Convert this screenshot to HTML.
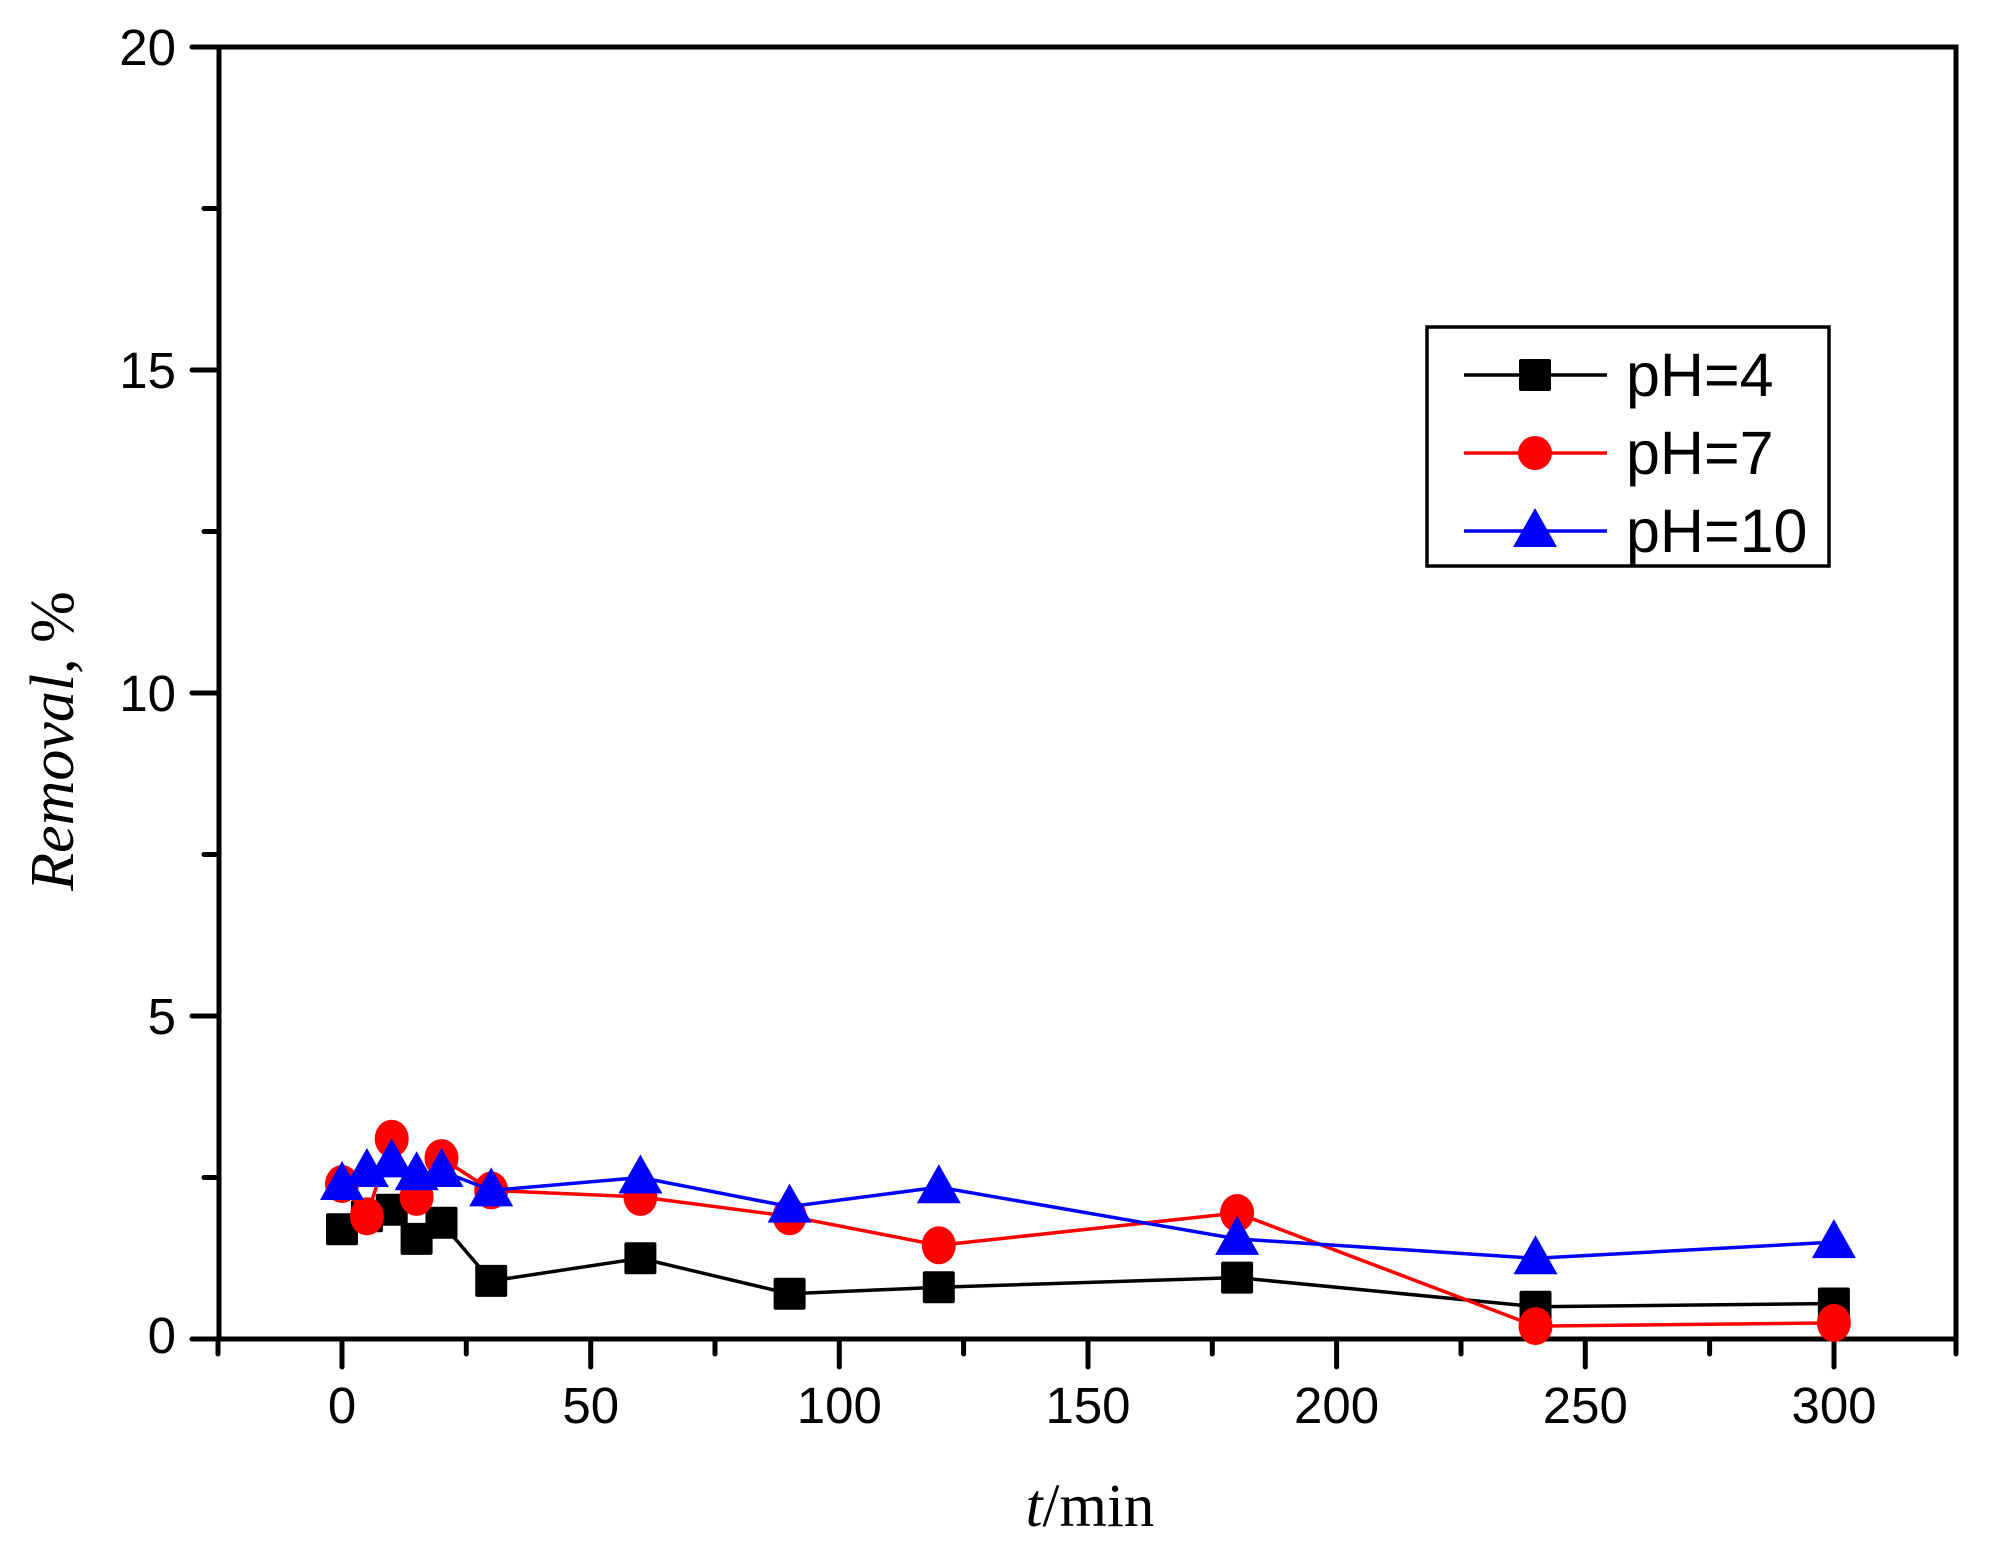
<!DOCTYPE html>
<html><head><meta charset="utf-8"><style>html,body{margin:0;padding:0;background:#fff}svg{display:block}</style></head>
<body>
<svg width="1994" height="1555" viewBox="0 0 1994 1555" xmlns="http://www.w3.org/2000/svg">
<defs>
<rect id="sq" x="-16" y="-16" width="32" height="32" rx="2" fill="#000"/>
<ellipse id="ci" cx="0" cy="0" rx="17" ry="19" fill="#f00"/>
<polygon id="tr" points="0,-23 22,16 -22,16" fill="#00f"/>
</defs>
<g stroke="#000" stroke-width="5" fill="none" stroke-linecap="round">
<rect x="219" y="47" width="1737" height="1292"/>
<path d="M219 1339h-27M219 1177.5h-15M219 1016h-27M219 854.5h-15M219 693h-27M219 531.5h-15M219 370h-27M219 208.5h-15M219 47h-27"/>
<path d="M218 1339v15M342 1339v28M466.3 1339v15M590.7 1339v28M715 1339v15M839.3 1339v28M963.6 1339v15M1088 1339v28M1212.3 1339v15M1336.6 1339v28M1461 1339v15M1585.3 1339v28M1709.6 1339v15M1834 1339v28M1956 1339v15"/>
</g>
<g font-family="Liberation Sans, sans-serif" font-size="51" fill="#000">
<g text-anchor="end">
<text x="176" y="1353">0</text>
<text x="176" y="1034">5</text>
<text x="176" y="711">10</text>
<text x="176" y="388">15</text>
<text x="176" y="65">20</text>
</g>
<g text-anchor="middle">
<text x="342" y="1423">0</text>
<text x="590.7" y="1423">50</text>
<text x="839.3" y="1423">100</text>
<text x="1088" y="1423">150</text>
<text x="1336.6" y="1423">200</text>
<text x="1585.3" y="1423">250</text>
<text x="1834" y="1423">300</text>
</g>
</g>
<text x="1090" y="1526" text-anchor="middle" font-family="Liberation Serif, serif" font-size="61"><tspan font-style="italic">t</tspan>/min</text>
<text transform="translate(73,741) rotate(-90)" text-anchor="middle" font-family="Liberation Serif, serif" font-size="62"><tspan font-style="italic">Removal</tspan>, %</text>

<polyline fill="none" stroke="#000" stroke-width="3.5" points="342,1229.2 366.9,1216.3 391.7,1209.8 416.6,1238.9 441.5,1222.7 491.2,1280.9 640.4,1258.3 789.6,1293.8 938.8,1287.3 1237.1,1277.6 1535.5,1306.7 1833.9,1303.5"/>
<g>
<use href="#sq" x="342" y="1229.2"/><use href="#sq" x="366.9" y="1216.3"/><use href="#sq" x="391.7" y="1209.8"/><use href="#sq" x="416.6" y="1238.9"/><use href="#sq" x="441.5" y="1222.7"/><use href="#sq" x="491.2" y="1280.9"/><use href="#sq" x="640.4" y="1258.3"/><use href="#sq" x="789.6" y="1293.8"/><use href="#sq" x="938.8" y="1287.3"/><use href="#sq" x="1237.1" y="1277.6"/><use href="#sq" x="1535.5" y="1306.7"/><use href="#sq" x="1833.9" y="1303.5"/>
</g>
<polyline fill="none" stroke="#f00" stroke-width="3.5" points="342,1184 366.9,1216.3 391.7,1138.7 416.6,1196.9 441.5,1158.1 491.2,1190.4 640.4,1196.9 789.6,1216.3 938.8,1245.3 1237.1,1213 1535.5,1326.1 1833.9,1322.9"/>
<g>
<use href="#ci" x="342" y="1184"/><use href="#ci" x="366.9" y="1216.3"/><use href="#ci" x="391.7" y="1138.7"/><use href="#ci" x="416.6" y="1196.9"/><use href="#ci" x="441.5" y="1158.1"/><use href="#ci" x="491.2" y="1190.4"/><use href="#ci" x="640.4" y="1196.9"/><use href="#ci" x="789.6" y="1216.3"/><use href="#ci" x="938.8" y="1245.3"/><use href="#ci" x="1237.1" y="1213"/><use href="#ci" x="1535.5" y="1326.1"/><use href="#ci" x="1833.9" y="1322.9"/>
</g>
<polyline fill="none" stroke="#00f" stroke-width="3.5" points="342,1184 366.9,1171 391.7,1161.4 416.6,1174.3 441.5,1171 491.2,1190.4 640.4,1177.5 789.6,1206.6 938.8,1187.2 1237.1,1238.9 1535.5,1258.3 1833.9,1242.1"/>
<g>
<use href="#tr" x="342" y="1184"/><use href="#tr" x="366.9" y="1171"/><use href="#tr" x="391.7" y="1161.4"/><use href="#tr" x="416.6" y="1174.3"/><use href="#tr" x="441.5" y="1171"/><use href="#tr" x="491.2" y="1190.4"/><use href="#tr" x="640.4" y="1177.5"/><use href="#tr" x="789.6" y="1206.6"/><use href="#tr" x="938.8" y="1187.2"/><use href="#tr" x="1237.1" y="1238.9"/><use href="#tr" x="1535.5" y="1258.3"/><use href="#tr" x="1833.9" y="1242.1"/>
</g>

<rect x="1427" y="327" width="402" height="239" fill="#fff" stroke="#000" stroke-width="3.5"/>
<path d="M1464 375H1607" stroke="#000" stroke-width="3.5"/>
<use href="#sq" x="1535" y="375"/>
<path d="M1464 453H1607" stroke="#f00" stroke-width="3.5"/>
<circle cx="1535" cy="453" r="17" fill="#f00"/>
<path d="M1464 531H1607" stroke="#00f" stroke-width="3.5"/>
<use href="#tr" x="1535" y="531"/>
<g font-family="Liberation Sans, sans-serif" font-size="61" fill="#000">
<text x="1626" y="396">pH=4</text>
<text x="1626" y="474">pH=7</text>
<text x="1626" y="552">pH=10</text>
</g>
</svg>
</body></html>
